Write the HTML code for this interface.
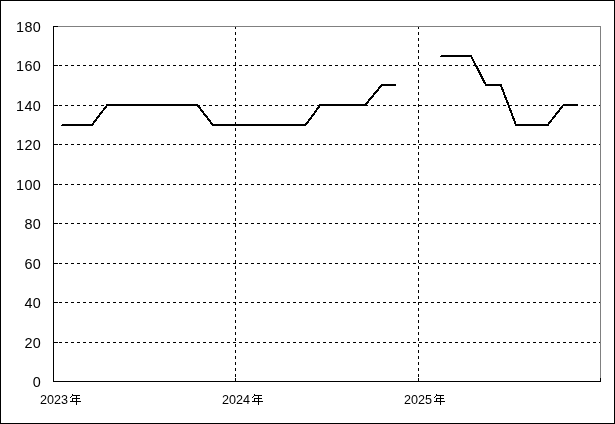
<!DOCTYPE html>
<html><head><meta charset="utf-8"><title>chart</title>
<style>
html,body{margin:0;padding:0;background:#fff;}
body{width:615px;height:424px;position:relative;overflow:hidden;font-family:"Liberation Sans",sans-serif;color:#000;}
.yl{position:absolute;left:0;width:41.3px;text-align:right;font-size:14.4px;letter-spacing:0.45px;will-change:transform;line-height:20px;height:20px;white-space:nowrap;}
.xl{position:absolute;top:390px;font-size:12.6px;will-change:transform;line-height:20px;height:20px;white-space:nowrap;}
</style></head><body>
<svg width="615" height="424" viewBox="0 0 615 424" shape-rendering="crispEdges" style="position:absolute;left:0;top:0">
<rect x="0.5" y="0.5" width="614" height="423" fill="#fff" stroke="#000" stroke-width="1"/>
<g stroke="#000" stroke-width="1" stroke-dasharray="3 3" fill="none">
<line x1="53" y1="65.5" x2="601" y2="65.5"/>
<line x1="53" y1="105.5" x2="601" y2="105.5"/>
<line x1="53" y1="144.5" x2="601" y2="144.5"/>
<line x1="53" y1="184.5" x2="601" y2="184.5"/>
<line x1="53" y1="223.5" x2="601" y2="223.5"/>
<line x1="53" y1="263.5" x2="601" y2="263.5"/>
<line x1="53" y1="302.5" x2="601" y2="302.5"/>
<line x1="53" y1="342.5" x2="601" y2="342.5"/>
<line x1="235.5" y1="26" x2="235.5" y2="382"/>
<line x1="418.5" y1="26" x2="418.5" y2="382"/>
</g>
<g stroke="#808080" stroke-width="1" fill="none"><line x1="53" y1="26.5" x2="601" y2="26.5"/><line x1="600.5" y1="26" x2="600.5" y2="382"/></g>
<g stroke="#000" stroke-width="1" fill="none">
<line x1="53.5" y1="26" x2="53.5" y2="382"/>
<line x1="53" y1="381.5" x2="601" y2="381.5"/>
<line x1="53" y1="26.5" x2="58" y2="26.5"/>
<line x1="53" y1="65.5" x2="58" y2="65.5"/>
<line x1="53" y1="105.5" x2="58" y2="105.5"/>
<line x1="53" y1="144.5" x2="58" y2="144.5"/>
<line x1="53" y1="184.5" x2="58" y2="184.5"/>
<line x1="53" y1="223.5" x2="58" y2="223.5"/>
<line x1="53" y1="263.5" x2="58" y2="263.5"/>
<line x1="53" y1="302.5" x2="58" y2="302.5"/>
<line x1="53" y1="342.5" x2="58" y2="342.5"/>
<line x1="53" y1="381.5" x2="58" y2="381.5"/>
<line x1="53.5" y1="378" x2="53.5" y2="382"/>
<line x1="235.5" y1="378" x2="235.5" y2="382"/>
<line x1="418.5" y1="378" x2="418.5" y2="382"/>
<line x1="600.5" y1="378" x2="600.5" y2="382"/>
</g>
<g stroke="#000" stroke-width="2" fill="none" stroke-linejoin="miter" stroke-linecap="butt"><polyline points="62,125 92.0,125 107.2,105 197.4,105 212.9,125 305.6,125 320.3,105 365.2,105 381.9,85 396.2,85"/><polyline points="441,56 471.0,56 485.9,85 500.8,85 516.0,125 547.7,125 563.4,105 578.1,105"/></g>
<rect x="61" y="125" width="1" height="1" fill="#000"/><rect x="440" y="56" width="1" height="1" fill="#000"/>
<g fill="#000" transform="translate(70,394)">
<rect x="2" y="0" width="1" height="1"/>
<rect x="2" y="1" width="8" height="1"/>
<rect x="1" y="2" width="1" height="1"/>
<rect x="6" y="2" width="1" height="1"/>
<rect x="0" y="3" width="1" height="1"/>
<rect x="6" y="3" width="1" height="1"/>
<rect x="2" y="4" width="8" height="1"/>
<rect x="2" y="5" width="1" height="1"/>
<rect x="6" y="5" width="1" height="1"/>
<rect x="2" y="6" width="1" height="1"/>
<rect x="6" y="6" width="1" height="1"/>
<rect x="0" y="7" width="11" height="1"/>
<rect x="6" y="8" width="1" height="1"/>
<rect x="6" y="9" width="1" height="1"/>
<rect x="6" y="10" width="1" height="1"/>
</g>
<g fill="#000" transform="translate(252,394)">
<rect x="2" y="0" width="1" height="1"/>
<rect x="2" y="1" width="8" height="1"/>
<rect x="1" y="2" width="1" height="1"/>
<rect x="6" y="2" width="1" height="1"/>
<rect x="0" y="3" width="1" height="1"/>
<rect x="6" y="3" width="1" height="1"/>
<rect x="2" y="4" width="8" height="1"/>
<rect x="2" y="5" width="1" height="1"/>
<rect x="6" y="5" width="1" height="1"/>
<rect x="2" y="6" width="1" height="1"/>
<rect x="6" y="6" width="1" height="1"/>
<rect x="0" y="7" width="11" height="1"/>
<rect x="6" y="8" width="1" height="1"/>
<rect x="6" y="9" width="1" height="1"/>
<rect x="6" y="10" width="1" height="1"/>
</g>
<g fill="#000" transform="translate(434,394)">
<rect x="2" y="0" width="1" height="1"/>
<rect x="2" y="1" width="8" height="1"/>
<rect x="1" y="2" width="1" height="1"/>
<rect x="6" y="2" width="1" height="1"/>
<rect x="0" y="3" width="1" height="1"/>
<rect x="6" y="3" width="1" height="1"/>
<rect x="2" y="4" width="8" height="1"/>
<rect x="2" y="5" width="1" height="1"/>
<rect x="6" y="5" width="1" height="1"/>
<rect x="2" y="6" width="1" height="1"/>
<rect x="6" y="6" width="1" height="1"/>
<rect x="0" y="7" width="11" height="1"/>
<rect x="6" y="8" width="1" height="1"/>
<rect x="6" y="9" width="1" height="1"/>
<rect x="6" y="10" width="1" height="1"/>
</g>
</svg>
<div class="yl" style="top:17px">180</div>
<div class="yl" style="top:56px">160</div>
<div class="yl" style="top:96px">140</div>
<div class="yl" style="top:135px">120</div>
<div class="yl" style="top:175px">100</div>
<div class="yl" style="top:214px">80</div>
<div class="yl" style="top:254px">60</div>
<div class="yl" style="top:293px">40</div>
<div class="yl" style="top:333px">20</div>
<div class="yl" style="top:372px">0</div>
<div class="xl" style="left:40.4px">2023</div>
<div class="xl" style="left:222.3px">2024</div>
<div class="xl" style="left:404.4px">2025</div>
</body></html>
